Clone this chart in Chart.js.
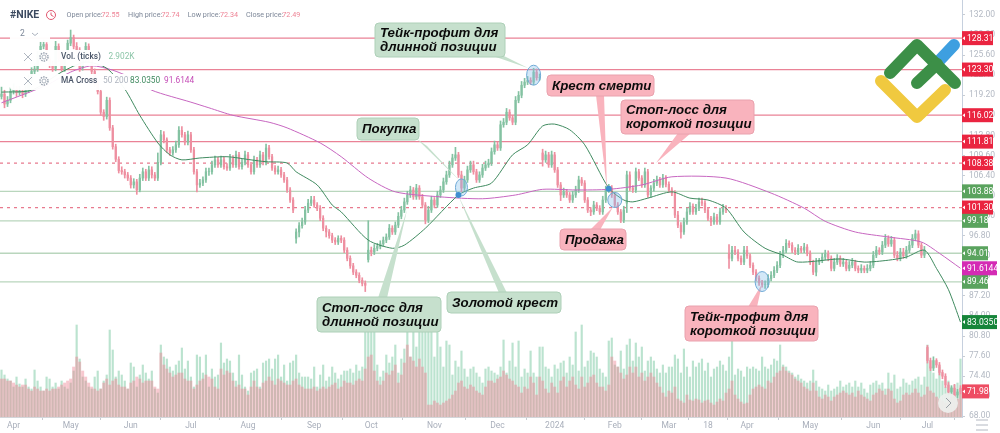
<!DOCTYPE html>
<html><head><meta charset="utf-8"><style>html,body{margin:0;padding:0;background:#fff}canvas{display:block}</style>
<script src="https://cdn.jsdelivr.net/npm/chart.js@4/dist/chart.umd.min.js"></script></head><body>
<canvas id="c" width="1000" height="433"></canvas>
<script>
const opens=[
119.0,119.4,117.8,118.4,119.8,120.2,119.6,119.9,119.4,120.0,121.8,123.0,123.4,125.6,127.0,127.3,125.0,124.0,123.5,127.0,
125.0,123.4,125.5,127.5,128.4,127.0,126.4,123.6,125.0,127.0,125.0,123.0,121.0,119.8,116.5,115.8,118.4,114.0,111.0,109.0,
107.2,107.0,106.5,106.0,104.9,105.4,104.1,106.0,107.0,106.0,107.3,106.5,106.0,108.5,112.9,112.1,110.5,110.0,110.5,111.3,
113.6,112.9,111.7,112.9,110.5,107.0,104.9,105.2,105.7,107.0,107.0,108.1,108.9,108.1,108.9,107.8,107.6,109.2,108.1,109.7,
107.8,108.5,109.7,108.1,107.0,108.9,108.1,109.7,108.5,110.8,109.4,107.6,107.0,107.3,106.5,105.7,104.1,102.5,96.4,97.4,
98.4,99.0,100.9,102.0,102.5,101.7,101.2,99.6,98.0,97.4,96.8,96.1,95.8,96.4,96.1,94.5,93.2,92.0,91.0,90.5,
89.7,89.2,93.0,94.5,94.2,94.8,95.1,95.5,96.1,96.6,98.0,97.4,98.5,99.9,100.9,102.2,103.3,104.1,103.0,104.4,
103.0,101.7,99.3,100.9,102.5,101.7,103.3,104.1,105.4,106.5,108.1,109.2,109.7,106.5,104.4,105.7,107.3,108.1,107.0,105.7,
106.5,107.6,108.1,108.4,110.2,111.3,110.8,114.5,114.9,116.5,115.6,114.9,118.4,119.2,120.8,121.3,121.6,121.3,122.9,122.0,
110.0,108.9,109.7,108.1,109.7,107.3,104.9,103.3,103.8,103.3,102.5,103.3,104.1,105.7,105.2,102.5,100.9,100.6,101.7,101.2,
100.6,102.5,104.1,104.4,103.3,101.7,100.6,99.3,102.0,106.5,104.4,104.1,107.0,106.0,104.9,107.0,103.3,104.4,105.2,105.7,
104.9,106.0,105.0,104.1,103.6,100.1,98.5,97.4,99.0,100.6,101.5,100.6,101.2,102.2,102.0,100.9,99.6,99.0,99.8,99.0,
100.6,101.2,94.0,93.2,94.5,94.2,93.2,92.6,94.5,93.6,92.1,91.0,90.0,89.3,89.0,89.0,90.0,90.5,91.3,92.1,
93.7,94.5,95.6,95.3,94.5,94.2,94.8,94.5,95.0,94.0,92.6,91.0,92.6,92.9,93.4,93.9,93.2,91.6,92.6,93.2,
92.3,92.6,91.6,92.1,92.6,91.6,91.3,91.6,91.3,91.6,92.1,93.7,94.5,94.2,95.3,96.4,95.5,96.1,93.7,93.2,
94.2,93.6,94.5,95.3,96.4,97.1,95.3,93.7,79.0,76.9,75.7,76.9,76.2,75.0,74.4,73.0,71.9,72.5,71.4,72.5];
const closes=[
119.4,117.8,118.4,119.8,120.2,119.6,119.9,119.4,120.0,121.8,123.0,123.4,125.6,127.0,127.3,125.0,124.0,123.5,127.0,125.0,
123.4,125.5,127.5,128.4,127.0,126.4,123.6,125.0,127.0,125.0,123.0,121.0,119.8,116.5,115.8,118.4,114.0,111.0,109.0,107.2,
107.0,106.5,106.0,104.9,105.4,104.1,106.0,107.0,106.0,107.3,106.5,106.0,108.5,112.9,112.1,110.5,110.0,110.5,111.3,113.6,
112.9,111.7,112.9,110.5,107.0,104.9,105.2,105.7,107.0,107.0,108.1,108.9,108.1,108.9,107.8,107.6,109.2,108.1,109.7,107.8,
108.5,109.7,108.1,107.0,108.9,108.1,109.7,108.5,110.8,109.4,107.6,107.0,107.3,106.5,105.7,104.1,102.5,100.9,97.4,98.4,
99.0,100.9,102.0,102.5,101.7,101.2,99.6,98.0,97.4,96.8,96.1,95.8,96.4,96.1,94.5,93.2,92.0,91.0,90.5,89.7,
89.2,88.9,94.5,94.2,94.8,95.1,95.5,96.1,96.6,98.0,97.4,98.5,99.9,100.9,102.2,103.3,104.1,103.0,104.4,103.0,
101.7,99.3,100.9,102.5,101.7,103.3,104.1,105.4,106.5,108.1,109.2,109.7,106.5,104.4,105.7,107.3,108.1,107.0,105.7,106.5,
107.6,108.1,108.4,110.2,111.3,110.8,114.5,114.9,116.5,115.6,114.9,118.4,119.2,120.8,121.3,121.6,121.3,122.9,122.0,122.0,
108.9,109.7,108.1,109.7,107.3,104.9,103.3,103.8,103.3,102.5,103.3,104.1,105.7,105.2,102.5,100.9,100.6,101.7,101.2,100.6,
102.5,104.1,104.4,103.3,101.7,100.6,99.3,100.9,106.5,104.4,104.1,107.0,106.0,104.9,107.0,103.3,104.4,105.2,105.7,104.9,
106.0,105.0,104.1,103.6,100.1,98.5,97.4,99.0,100.6,101.5,100.6,101.2,102.2,102.0,100.9,99.6,99.0,99.8,99.0,100.6,
101.2,100.9,93.2,94.5,94.2,93.2,92.6,94.5,93.6,92.1,91.0,90.0,89.3,89.0,89.0,90.0,90.5,91.3,92.1,93.7,
94.5,95.6,95.3,94.5,94.2,94.8,94.5,95.0,94.0,92.6,91.0,92.6,92.9,93.4,93.9,93.2,91.6,92.6,93.2,92.3,
92.6,91.6,92.1,92.6,91.6,91.3,91.6,91.3,91.6,92.1,93.7,94.5,94.2,95.3,96.4,95.5,96.1,93.7,93.2,94.2,
93.6,94.5,95.3,96.4,97.1,95.3,93.7,94.5,76.9,75.7,76.9,76.2,75.0,74.4,73.0,71.9,72.5,71.4,71.9,72.0];
const highs=[
120.5,120.0,119.0,120.4,121.0,120.6,120.6,120.2,120.8,122.4,123.6,124.2,126.2,127.8,128.0,127.6,125.4,124.6,127.8,127.4,
125.6,126.0,128.0,129.6,128.8,127.6,126.8,125.6,127.6,127.4,125.4,123.4,121.4,120.2,116.9,118.9,118.8,114.4,111.4,109.4,
107.8,107.4,106.9,106.4,105.9,105.8,106.6,107.6,107.4,107.9,107.8,106.9,110.0,113.6,113.4,112.4,110.9,111.0,111.9,114.2,
114.2,113.3,113.5,113.3,110.9,107.4,105.8,106.2,107.6,107.6,108.7,109.5,109.3,109.5,109.4,108.3,109.8,109.6,110.3,110.1,
109.1,110.3,110.1,108.5,109.5,109.3,110.3,110.1,111.4,111.2,109.8,108.0,107.9,107.7,106.9,106.1,104.5,102.9,97.9,98.9,
99.6,101.5,102.6,103.1,103.1,102.1,101.6,100.0,98.4,97.8,97.2,96.5,96.8,96.8,96.5,94.9,93.6,92.4,91.4,90.9,
90.1,89.6,99.2,95.0,95.4,95.6,96.0,96.6,97.1,98.6,98.4,99.0,100.5,101.5,102.8,103.9,104.7,104.5,105.0,104.8,
103.4,102.1,101.5,103.1,102.9,103.9,104.7,106.0,107.1,108.7,109.8,110.9,110.1,107.1,106.3,107.9,108.7,108.7,107.4,107.0,
108.2,108.7,109.0,110.8,111.9,111.7,115.1,115.5,117.1,116.9,116.0,119.0,119.8,121.4,121.9,122.2,122.0,123.5,123.4,122.6,
110.6,110.3,110.1,110.3,110.1,107.7,105.3,104.4,104.2,103.7,103.9,104.7,106.3,106.1,105.6,102.9,101.3,102.3,102.1,101.6,
103.1,104.7,105.0,104.8,103.7,102.1,101.0,101.5,107.1,107.0,104.8,107.6,107.4,106.4,107.6,107.4,104.8,105.8,106.3,106.1,
106.6,106.4,105.4,104.5,104.0,100.7,98.9,99.6,101.2,102.1,101.9,101.8,102.8,102.8,102.4,101.3,99.9,100.4,100.2,101.2,
101.8,101.6,95.4,95.1,95.1,94.6,93.6,95.1,95.1,93.9,92.5,91.4,90.4,89.7,89.6,90.6,91.1,91.9,92.7,94.3,
95.1,96.2,96.0,95.7,94.9,95.4,95.1,95.6,95.4,94.4,92.9,93.2,93.2,94.0,94.5,94.4,93.6,93.2,93.8,93.6,
93.2,92.9,92.7,93.2,92.9,92.0,92.2,92.0,92.2,92.7,94.3,95.1,94.9,95.9,97.0,96.8,96.7,96.5,94.3,94.8,
94.8,95.1,95.9,97.0,97.7,97.6,95.7,95.1,79.3,77.3,77.5,77.2,76.6,75.4,74.8,73.4,72.9,73.1,72.3,72.9];
const lows=[
118.6,117.2,117.4,118.0,119.4,119.0,119.2,118.8,119.0,119.6,121.4,122.6,123.0,125.2,126.6,124.6,123.6,123.0,123.1,124.6,
123.0,123.0,125.1,127.1,126.6,125.9,123.0,123.2,124.6,124.6,122.6,120.6,119.4,116.0,115.2,115.4,113.6,110.6,108.6,106.8,
106.6,106.0,105.6,104.4,104.4,103.4,103.8,105.6,105.6,105.6,106.0,105.6,105.6,108.1,111.6,110.1,109.6,109.6,110.1,110.9,
112.5,111.3,111.3,110.1,106.6,103.8,104.5,104.8,105.3,106.4,106.6,107.7,107.7,107.7,107.4,107.2,107.2,107.7,107.7,107.4,
107.4,108.1,107.7,106.6,106.6,107.7,107.7,108.1,108.1,109.0,107.2,106.6,106.6,106.1,105.3,103.7,102.1,100.5,95.6,96.6,
98.0,98.6,100.5,101.6,101.3,100.8,99.2,97.6,96.6,96.4,95.7,95.4,95.4,95.7,94.1,92.8,91.6,90.6,90.1,89.3,
88.8,87.9,92.6,93.6,93.8,94.4,94.7,95.1,95.7,96.2,97.0,97.0,98.1,99.5,100.5,101.8,102.9,102.6,102.6,102.6,
101.3,98.7,98.9,100.5,101.3,101.3,102.9,103.7,105.0,106.1,107.7,108.8,106.1,103.8,104.0,105.3,106.9,106.6,105.3,105.3,
106.1,107.2,107.7,108.0,109.8,110.4,110.4,114.1,114.5,115.2,114.5,114.5,118.0,118.8,120.4,120.9,120.9,120.9,121.6,121.6,
107.9,108.5,107.7,107.7,106.9,104.5,102.4,102.9,102.9,102.1,102.1,102.9,103.7,104.8,102.1,100.5,100.0,100.2,100.8,100.2,
100.2,102.1,103.7,102.9,101.3,100.2,98.9,98.9,100.5,104.0,103.7,103.7,105.6,104.5,104.5,102.9,102.9,103.9,104.8,104.5,
104.5,104.6,103.7,103.2,99.7,98.1,96.4,97.0,98.6,100.2,100.2,100.2,100.8,101.6,100.5,99.2,98.4,98.6,98.6,98.6,
100.2,100.5,91.6,92.8,93.8,92.8,92.2,92.2,93.2,91.7,90.6,89.6,88.9,88.6,88.4,88.6,89.6,90.1,90.9,91.7,
93.3,94.1,94.9,94.1,93.8,93.8,94.1,94.1,93.6,92.2,90.6,90.4,92.2,92.5,93.0,92.8,91.2,91.2,92.2,91.9,
91.9,91.2,91.2,91.7,91.2,90.9,90.9,90.9,90.9,91.2,91.7,93.3,93.8,93.8,94.9,95.1,95.1,93.3,92.8,92.8,
93.2,93.2,94.1,94.9,96.0,94.9,93.3,93.3,76.5,75.3,75.3,75.8,74.6,74.0,72.6,71.5,71.5,71.0,71.0,71.6];
const volGreen=[
47,42,38,36,30,40,33,30,38,30,28,47,36,30,26,40,38,30,34,28,
36,30,28,34,46,92,58,40,36,30,28,40,46,28,36,42,87,67,40,46,
42,36,28,54,50,30,42,52,44,38,46,28,24,72,60,58,50,46,52,56,
69,48,56,40,30,62,60,44,62,30,48,40,42,74,54,58,56,44,36,62,
42,30,26,44,46,48,30,54,56,58,48,58,62,40,52,36,54,56,62,44,
40,40,40,38,50,30,42,52,36,40,50,44,38,42,46,46,48,44,52,46,
50,95,100,105,88,52,40,46,62,54,60,72,44,58,68,95,60,100,70,100,
90,100,88,95,60,88,70,50,76,72,42,56,50,66,48,40,48,50,44,40,
34,48,50,46,44,42,50,77,44,56,74,50,76,40,48,44,66,44,40,70,
70,50,48,40,52,48,54,56,44,60,52,85,46,92,50,56,66,64,60,48,
44,40,76,79,52,50,66,48,72,78,56,74,60,70,46,56,60,56,48,44,
52,44,50,50,62,58,44,68,50,40,56,50,54,58,46,54,40,48,50,56,
52,46,60,95,42,48,46,40,50,48,50,48,46,60,50,48,52,58,56,72,
52,50,46,44,40,42,38,36,34,36,47,36,30,28,26,32,26,28,30,36,
30,32,34,30,36,30,34,28,24,32,34,36,32,34,28,44,34,42,28,30,
38,34,32,36,38,40,32,40,72,50,44,38,50,36,30,36,30,32,34,58];
const volPink=[
38,38,36,36,34,32,30,32,32,28,26,30,28,26,26,28,26,28,28,30,
32,34,36,38,50,60,55,46,40,34,30,28,26,28,34,38,32,36,38,32,
30,30,28,34,36,40,38,34,36,36,36,30,28,64,52,48,44,40,42,44,
44,38,36,36,28,32,36,38,42,40,38,30,28,48,42,46,44,36,30,32,
28,28,22,30,36,30,28,34,36,40,36,32,38,36,34,32,32,36,38,32,
30,28,28,28,30,26,28,30,28,30,32,34,28,30,36,34,34,32,36,38,
36,48,60,62,46,36,32,36,44,42,46,52,34,42,54,72,60,56,50,58,
50,44,12,12,16,14,12,14,16,18,22,26,34,36,30,28,32,30,26,24,
22,30,36,36,34,38,40,46,42,38,36,32,30,24,30,28,40,34,22,40,
36,28,24,34,30,24,36,40,30,36,40,32,28,40,30,34,40,42,34,30,
30,26,32,60,56,50,44,38,42,50,44,50,40,44,36,40,44,40,34,30,
24,20,26,24,30,18,16,14,22,17,16,18,17,14,16,17,14,12,15,18,
16,24,28,36,22,18,15,13,14,22,28,30,32,30,28,36,34,40,44,46,
50,46,44,42,38,36,34,30,28,26,34,26,20,18,22,20,16,20,22,24,
26,24,22,24,20,26,22,20,18,16,22,24,28,26,22,28,26,18,14,16,
22,24,22,24,28,24,20,22,30,26,24,20,18,16,14,18,20,22,18,26];
const ma50Bars=[0,10,20,28,35,41,46,52,56,60,66,75,83,88,95,98,105,110,113,122,130,134,141,152,157,163,170,175,180,184,189,194,202,207,210,215,223,229,235,241,247,254,260,265,279,287,295,301,307,311,315,319];
const ma50Vals=[119.7,120.0,122.9,124.5,123.5,120.2,116.0,111.6,109.7,108.9,109.2,109.4,108.9,108.6,108.4,107.0,104.9,101.7,100.6,96.1,94.8,95.3,98.0,103.3,104.4,105.2,109.7,111.3,114.3,114.6,113.7,111.3,104.4,102.5,102.2,102.8,103.8,102.8,102.5,101.2,97.4,94.8,93.7,92.6,93.1,92.6,92.9,93.4,94.5,91.6,88.2,83.035];
const ma200Bars=[0,15,23,30,37,43,50,63,69,77,89,95,106,113,122,131,146,160,171,180,191,202,213,223,241,256,267,274,284,295,306,312,319];
const ma200Vals=[118.0,120.8,122.9,123.9,123.2,122.0,120.0,118.1,117.2,116.0,114.9,114.0,111.6,109.4,106.0,103.8,103.0,102.7,103.3,104.2,104.1,104.2,104.9,106.2,106.0,103.6,101.2,99.1,97.4,96.6,95.8,94.0,91.6144];
const priceTicks=[132,128.8,125.6,122.4,119.2,116,112.8,109.6,106.4,103.2,100,96.8,93.6,90.4,87.2,84,80.8,77.6,74.4,71.2,68];
const monthLabels=["Apr","May","Jun","Jul","Aug","Sep","Oct","Nov","Dec","2024","Feb","Mar","18","Apr","May","Jun","Jul"];
const monthBars=[4,23,43,63,82,104,123,144,165,184,204,222,235,248,269,290,308];
const redLevels=[128.31,123.30,116.02,111.81];
const redDashed=[108.38,101.30];
const greenLevels=[103.88,99.18,94.01,89.46];
const lastMa50=83.0350, lastMa200=91.6144, lastClose=71.98;
const crossBars=[152,202];
const crossVals=[103.3,104.3];
const circleBars=[177,153,204,253];
const circleVals=[122.4,104.5,102.5,89.5];

const barLabels=closes.map((_,i)=>"b"+i);
const fillSparse=(idx,vals)=>{const a=closes.map(()=>null);idx.forEach((b,k)=>a[b]=vals[k]);return a;};
const UP="#84c2a2",DOWN="#ee8fa0";
const candleColors=closes.map((c,i)=>c>=opens[i]?UP:DOWN);

const rr=(g,x,y,w,h,r)=>{g.beginPath();g.roundRect(x,y,w,h,r);};
const callouts=[
 {lines:["Тейк-профит для","длинной позиции"],green:true,box:[375,23,130,34],ptr:[[490,55],[502,55],[528,68]]},
 {lines:["Крест смерти"],green:false,box:[547,75,107,21],ptr:[[596,95],[604,95],[607,189]]},
 {lines:["Стоп-лосс для","короткой позиции"],green:false,box:[621,100,133,34],ptr:[[678,133],[691,133],[656,163]]},
 {lines:["Покупка"],green:true,box:[357,118,62,22],ptr:[[417,139],[427,146],[462,183]]},
 {lines:["Продажа"],green:false,box:[560,229,66,21],ptr:[[590,230],[600,230],[613,207]]},
 {lines:["Стоп-лосс для","длинной позиции"],green:true,box:[317,297,124,35],ptr:[[378,298],[387,298],[407,210]]},
 {lines:["Золотой крест"],green:true,box:[447,292,114,21],ptr:[[499,293],[507,293],[458,195]]},
 {lines:["Тейк-профит для","короткой позиции"],green:false,box:[685,306,133,35],ptr:[[748,307],[757,307],[762,284]]}
];
const overlay={id:"overlay",
 beforeDatasetsDraw(ch){const g=ch.ctx,y=ch.scales.y,a=ch.chartArea;g.save();
  const line=(v,col,dash,w)=>{const p=y.getPixelForValue(v);g.strokeStyle=col;g.lineWidth=w;g.setLineDash(dash);g.beginPath();g.moveTo(a.left,p);g.lineTo(a.right,p);g.stroke();};
  redLevels.forEach(v=>line(v,"#ea8296",[],1.3));
  redDashed.forEach(v=>line(v,"#e87a8e",[3,4],1.2));
  greenLevels.forEach(v=>line(v,"#b9d6bd",[],1.3));
  g.restore();},
 afterDatasetsDraw(ch){const g=ch.ctx,y=ch.scales.y,x=ch.scales.x;g.save();
  g.fillStyle="rgba(255,255,255,.97)";
  rr(g,10,26,40,16,3);g.fill();rr(g,10,50,135,16,3);g.fill();rr(g,10,74,193,16,3);g.fill();
  g.textBaseline="middle";g.textAlign="left";
  g.font="bold 10.5px Roboto";g.fillStyle="#3c4a60";g.fillText("#NIKE",10,15);
  g.strokeStyle="#e0566e";g.lineWidth=1;g.beginPath();g.arc(51,15,4.5,0,6.283);g.stroke();
  g.beginPath();g.moveTo(51,12.5);g.lineTo(51,15);g.lineTo(53.5,16.5);g.stroke();
  g.font="7.2px Roboto";
  [["Open price:","72.55",66.5,101.5],["High price:","72.74",128,161.5],["Low price:","72.34",187.7,220],["Close price:","72.49",246,282.3]].forEach(r=>{
   g.fillStyle="#7d8798";g.fillText(r[0],r[2],15);g.fillStyle="#ee8496";g.fillText(r[1],r[3],15);});
  g.font="8.5px Roboto";g.fillStyle="#7d8798";g.fillText("2",20,33.5);
  g.strokeStyle="#aab1bd";g.beginPath();g.moveTo(32,33);g.lineTo(35,35.5);g.lineTo(38,33);g.stroke();
  [57,81].forEach(py=>{g.strokeStyle="#9aa3b0";g.lineWidth=.8;g.beginPath();g.moveTo(24,py-4);g.lineTo(32,py+4);g.moveTo(32,py-4);g.lineTo(24,py+4);g.stroke();
   g.beginPath();g.arc(44,py,2,0,6.283);g.stroke();g.setLineDash([1.5,1]);g.lineWidth=1.5;g.beginPath();g.arc(44,py,4,0,6.283);g.stroke();g.setLineDash([]);});
  g.font="500 8.3px Roboto";g.fillStyle="#4a5568";g.fillText("Vol. (ticks)",61,57);g.fillText("MA Cross",61,81);
  g.font="8.3px Roboto";g.fillStyle="#8cc5a8";g.fillText("2.902K",108.5,57);
  g.fillStyle="#aeb4bf";g.fillText("50 200",103,81);
  g.fillStyle="#3f8a5f";g.fillText("83.0350",130,81);
  g.fillStyle="#c44bb6";g.fillText("91.6144",164,81);
  callouts.forEach(c=>{const f=c.green?"#c6e0cd":"#f9b3bd",s=c.green?"#aed0b8":"#e9a2ae";
   g.fillStyle=f;g.strokeStyle=s;g.lineWidth=1;
   const [bx,by,bw,bh]=c.box;
   g.beginPath();c.ptr.forEach((p,i)=>i?g.lineTo(p[0],p[1]):g.moveTo(p[0],p[1]));g.closePath();g.fill();
   rr(g,bx,by,bw,bh,4);g.fill();g.stroke();
   g.fillStyle="#0b0b0b";g.font="italic bold 13.3px 'Liberation Sans'";g.textAlign="left";g.textBaseline="middle";
   c.lines.forEach((t,i)=>{const ly=c.lines.length>1?by+bh/2+(i?7.5:-6.5):by+bh/2+.5;g.fillText(t,bx+5,ly);});
  });
  const rad=[[7,10],[6,8.5],[7,7.5],[7,10]];
  circleBars.forEach((b,k)=>{const px=x.getPixelForValue(b),py=y.getPixelForValue(circleVals[k]);
   g.beginPath();g.ellipse(px,py,rad[k][0],rad[k][1],0,0,6.283);g.fillStyle="rgba(130,190,235,.35)";g.fill();g.strokeStyle="#6fa9d6";g.lineWidth=1;g.stroke();});
  crossBars.forEach((b,k)=>{const px=x.getPixelForValue(b),py=y.getPixelForValue(crossVals[k]);
   g.beginPath();g.arc(px,py,3,0,6.283);g.fillStyle="#3f8fd0";g.fill();});
  g.lineCap="round";g.lineJoin="round";g.lineWidth=12;
  const poly=(col,pts)=>{g.strokeStyle=col;g.beginPath();pts.forEach((p,i)=>i?g.lineTo(p[0],p[1]):g.moveTo(p[0],p[1]));g.stroke();};
  poly("#3e9fe0",[[938,62],[954,45]]);
  poly("#f0c93f",[[881,81],[917,117],[945,90]]);
  poly("#3c8f47",[[890,73],[917,45],[955,83]]);
  poly("#3c8f47",[[917,83],[937,64]]);
  g.lineCap="butt";
  g.beginPath();g.arc(948,403,10,0,6.283);g.fillStyle="rgba(238,240,238,.92)";g.fill();
  g.strokeStyle="#9aa0a6";g.lineWidth=1;g.beginPath();g.moveTo(946,398);g.lineTo(951,403);g.lineTo(946,408);g.stroke();
  g.strokeStyle="#b3b8c2";[420,425,430].forEach(p=>{g.beginPath();g.moveTo(976,p);g.lineTo(988,p);g.stroke();});
  g.restore();},
 afterDraw(ch){const g=ch.ctx,y=ch.scales.y;g.save();
  const badge=(v,txt,col,w)=>{const p=y.getPixelForValue(v);g.fillStyle=col;g.fillRect(962,p-7,w,14);
   g.fillStyle="#fff";g.font="8.6px Roboto";g.textAlign="left";g.textBaseline="middle";
   g.beginPath();g.moveTo(962.5,p);g.lineTo(965,p-2);g.lineTo(965,p+2);g.closePath();g.fill();
   g.fillText(txt,967,p+.5);};
  redLevels.concat(redDashed).forEach(v=>badge(v,v.toFixed(2),"#ea2440",31));
  greenLevels.forEach((v,i)=>badge(v,v.toFixed(2),"#5aa35e",i?26:31));
  badge(lastMa200,lastMa200.toFixed(4),"#d42bb4",35);
  badge(lastMa50,lastMa50.toFixed(4),"#16853a",35);
  badge(lastClose,lastClose.toFixed(2),"#ee4d63",27);
  g.restore();}
};
new Chart(document.getElementById("c"),{
 type:"bar",
 data:{labels:barLabels,datasets:[
  {label:"MA 50",type:"line",data:fillSparse(ma50Bars,ma50Vals),yAxisID:"y",borderColor:"#3f8a5f",borderWidth:1,pointRadius:0,spanGaps:true,tension:.25,order:1},
  {label:"MA 200",type:"line",data:fillSparse(ma200Bars,ma200Vals),yAxisID:"y",borderColor:"#c766c0",borderWidth:1,pointRadius:0,spanGaps:true,tension:.25,order:1},
  {label:"Body",data:closes.map((c,i)=>[opens[i],c]),yAxisID:"y",backgroundColor:candleColors,barThickness:1.6,grouped:false,order:2},
  {label:"Wick",data:closes.map((_,i)=>[lows[i],highs[i]]),yAxisID:"y",backgroundColor:candleColors,barThickness:1,grouped:false,order:3},
  {label:"Vol pink",data:volPink,yAxisID:"yVol",backgroundColor:"rgba(235,125,140,.42)",barThickness:2.3,grouped:false,order:4},
  {label:"Vol green",data:volGreen,yAxisID:"yVol",backgroundColor:"rgba(120,200,160,.5)",barThickness:1.5,grouped:false,order:5}
 ]},
 options:{responsive:false,devicePixelRatio:1,animation:false,layout:{padding:0},
  plugins:{legend:{display:false},tooltip:{enabled:false}},
  scales:{
   x:{grid:{display:true,drawOnChartArea:false,drawTicks:true,tickLength:3,color:"#c8ccd2"},border:{color:"#d3d6da"},
      afterBuildTicks:s=>{s.ticks=monthBars.map(v=>({value:v}));},
      afterFit:s=>{s.height=16;s.paddingLeft=0;s.paddingRight=0;},
      ticks:{autoSkip:false,maxRotation:0,minRotation:0,padding:1,color:"#a9afbb",font:{family:"Roboto",size:8.5},callback:(v,i)=>monthLabels[i]}},
   y:{position:"right",min:67.9,max:134.39,grid:{display:true,drawOnChartArea:false,drawTicks:true,tickLength:3,color:"#c8ccd2"},border:{color:"#c6d0de"},
      afterBuildTicks:s=>{s.ticks=priceTicks.map(v=>({value:v}));},
      afterFit:s=>{s.width=38;s.paddingTop=0;s.paddingBottom=0;},
      ticks:{autoSkip:false,padding:4,color:"#b3b9c3",font:{family:"Roboto",size:8.5},callback:v=>v.toFixed(2)}},
   yVol:{display:false,min:0,max:417}
  }},
 plugins:[overlay]
});
</script></body></html>
